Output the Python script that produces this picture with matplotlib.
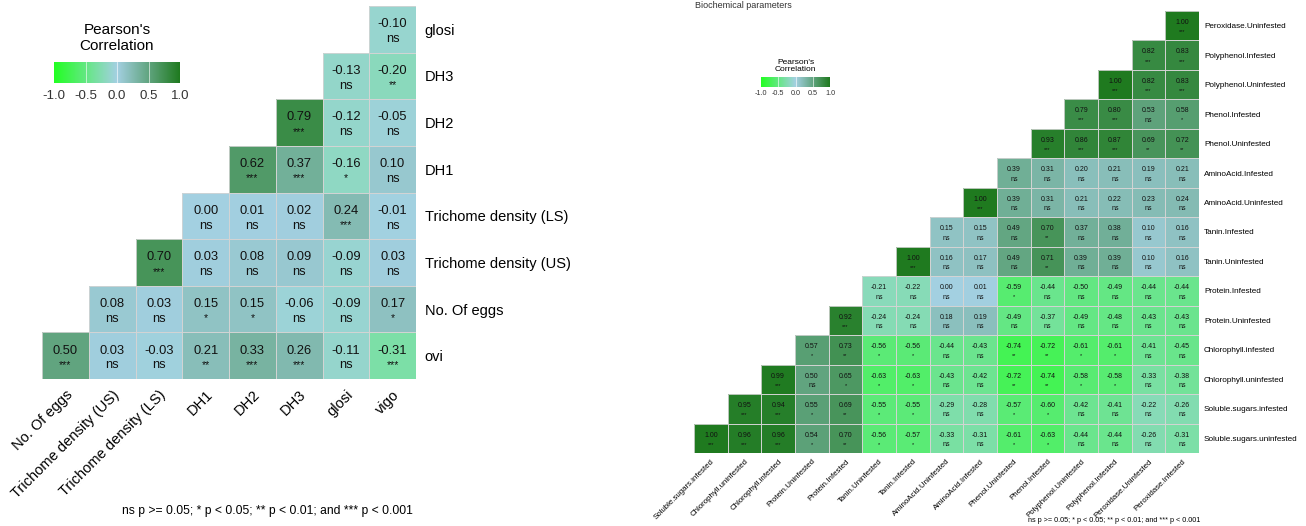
#!/usr/bin/env python3

import numpy as np
import matplotlib
matplotlib.use("Agg")
import matplotlib.pyplot as plt
from matplotlib.colors import LinearSegmentedColormap
from matplotlib.patches import Rectangle

plt.rcParams['font.family'] = ['Liberation Sans', 'DejaVu Sans']

W, H = 1306, 526

# ---- left panel data (rows top to bottom, each row ends at the last column) ----
left_cols = ["No. Of eggs", "Trichome density (US)", "Trichome density (LS)",
             "DH1", "DH2", "DH3", "glosi", "vigo"]
left_rows = ["glosi", "DH3", "DH2", "DH1", "Trichome density (LS)",
             "Trichome density (US)", "No. Of eggs", "ovi"]
left_vals = [
    [-0.10],
    [-0.13, -0.20],
    [0.79, -0.12, -0.05],
    [0.62, 0.37, -0.16, 0.10],
    [0.00, 0.01, 0.02, 0.24, -0.01],
    [0.70, 0.03, 0.08, 0.09, -0.09, 0.03],
    [0.08, 0.03, 0.15, 0.15, -0.06, -0.09, 0.17],
    [0.50, 0.03, -0.03, 0.21, 0.33, 0.26, -0.11, -0.31],
]
left_sig = [
    ["ns"],
    ["ns", "**"],
    ["***", "ns", "ns"],
    ["***", "***", "*", "ns"],
    ["ns", "ns", "ns", "***", "ns"],
    ["***", "ns", "ns", "ns", "ns", "ns"],
    ["ns", "ns", "*", "*", "ns", "ns", "*"],
    ["***", "ns", "ns", "**", "***", "***", "ns", "***"],
]

# ---- right panel data ----
right_cols = ["Soluble.sugars.infested", "Chlorophyll.uninfested", "Chlorophyll.infested",
              "Protein.Uninfested", "Protein.Infested", "Tanin.Uninfested", "Tanin.Infested",
              "AminoAcid.Uninfested", "AminoAcid.Infested", "Phenol.Uninfested",
              "Phenol.Infested", "Polyphenol.Uninfested", "Polyphenol.Infested",
              "Peroxidase.Uninfested", "Peroxidase.Infested"]
right_rows = ["Peroxidase.Uninfested", "Polyphenol.Infested", "Polyphenol.Uninfested",
              "Phenol.Infested", "Phenol.Uninfested", "AminoAcid.Infested",
              "AminoAcid.Uninfested", "Tanin.Infested", "Tanin.Uninfested",
              "Protein.Infested", "Protein.Uninfested", "Chlorophyll.infested",
              "Chlorophyll.uninfested", "Soluble.sugars.infested", "Soluble.sugars.uninfested"]
right_vals = [
    [1.00],
    [0.82, 0.83],
    [1.00, 0.82, 0.83],
    [0.79, 0.80, 0.53, 0.58],
    [0.93, 0.86, 0.87, 0.69, 0.72],
    [0.39, 0.31, 0.20, 0.21, 0.19, 0.21],
    [1.00, 0.39, 0.31, 0.21, 0.22, 0.23, 0.24],
    [0.15, 0.15, 0.49, 0.70, 0.37, 0.38, 0.10, 0.16],
    [1.00, 0.16, 0.17, 0.49, 0.71, 0.39, 0.39, 0.10, 0.16],
    [-0.21, -0.22, 0.00, 0.01, -0.59, -0.44, -0.50, -0.49, -0.44, -0.44],
    [0.92, -0.24, -0.24, 0.18, 0.19, -0.49, -0.37, -0.49, -0.48, -0.43, -0.43],
    [0.57, 0.73, -0.56, -0.56, -0.44, -0.43, -0.74, -0.72, -0.61, -0.61, -0.41, -0.45],
    [0.99, 0.50, 0.65, -0.63, -0.63, -0.43, -0.42, -0.72, -0.74, -0.58, -0.58, -0.33, -0.38],
    [0.95, 0.94, 0.55, 0.69, -0.55, -0.55, -0.29, -0.28, -0.57, -0.60, -0.42, -0.41, -0.22, -0.26],
    [1.00, 0.96, 0.96, 0.54, 0.70, -0.56, -0.57, -0.33, -0.31, -0.61, -0.63, -0.44, -0.44, -0.26, -0.31],
]
right_sig = [
    ["***"],
    ["***", "***"],
    ["***", "***", "***"],
    ["***", "***", "ns", "*"],
    ["***", "***", "***", "**", "**"],
    ["ns", "ns", "ns", "ns", "ns", "ns"],
    ["***", "ns", "ns", "ns", "ns", "ns", "ns"],
    ["ns", "ns", "ns", "**", "ns", "ns", "ns", "ns"],
    ["***", "ns", "ns", "ns", "**", "ns", "ns", "ns", "ns"],
    ["ns", "ns", "ns", "ns", "*", "ns", "ns", "ns", "ns", "ns"],
    ["***", "ns", "ns", "ns", "ns", "ns", "ns", "ns", "ns", "ns", "ns"],
    ["*", "**", "*", "*", "ns", "ns", "**", "**", "*", "*", "ns", "ns"],
    ["***", "ns", "*", "*", "*", "ns", "ns", "**", "**", "*", "*", "ns", "ns"],
    ["***", "***", "*", "**", "*", "*", "ns", "ns", "*", "*", "ns", "ns", "ns", "ns"],
    ["***", "***", "***", "*", "**", "*", "*", "ns", "ns", "*", "*", "ns", "ns", "ns", "ns"],
]

caption = "ns p >= 0.05; * p < 0.05; ** p < 0.01; and *** p < 0.001"

cmap = LinearSegmentedColormap.from_list(
    "corr", ["#22ff22", "#a4d0e2", "#1f7a1f"])


def to_matrix(vals, ncol):
    m = np.full((len(vals), ncol), np.nan)
    for i, row in enumerate(vals):
        m[i, ncol - len(row):] = row
    return m


def draw_heat(ax, vals, sigs, cols, rows, fs_val, fs_lab, fs_x):
    n = len(cols)
    m = to_matrix(vals, n)
    ax.pcolormesh(np.ma.masked_invalid(m), cmap=cmap, vmin=-1, vmax=1)
    for i, row in enumerate(vals):
        start = n - len(row)
        for k, v in enumerate(row):
            j = start + k
            s = sigs[i][k]
            ax.add_patch(Rectangle((j, i), 1, 1, fill=False, ec="#d4d4d4", lw=0.6))
            ax.text(j + 0.5, i + 0.39, f"{v:.2f}", ha="center", va="center",
                    fontsize=fs_val, color="#111111")
            if s == "ns":
                ax.text(j + 0.5, i + 0.71, s, ha="center", va="center",
                        fontsize=fs_val, color="#111111")
            else:
                ax.text(j + 0.5, i + 0.70, s, ha="center", va="center",
                        fontsize=fs_val * 0.8, color="#111111")
    ax.set_xlim(0, n)
    ax.set_ylim(len(rows), 0)
    ax.set_xticks(np.arange(n) + 0.5)
    ax.set_xticklabels(cols, rotation=45, ha="right", rotation_mode="anchor",
                       fontsize=fs_x)
    ax.set_yticks(np.arange(len(rows)) + 0.5)
    ax.set_yticklabels(rows, fontsize=fs_lab)
    ax.yaxis.tick_right()
    ax.tick_params(length=0, pad=fs_lab * 0.6)
    ax.patch.set_alpha(0)
    for sp in ax.spines.values():
        sp.set_visible(False)


def legend(fig, x0, y0, w, h, fs_title, fs_tick, title_y, pad):
    cax = fig.add_axes([x0 / W, 1 - (y0 + h) / H, w / W, h / H])
    grad = np.linspace(-1, 1, 256)[np.newaxis, :]
    cax.imshow(grad, aspect="auto", cmap=cmap, extent=[-1, 1, 0, 1])
    for t in [-0.5, 0, 0.5]:
        cax.axvline(t, color="white", lw=0.6, alpha=0.7)
    cax.set_xticks([-1, -0.5, 0, 0.5, 1])
    cax.set_xticklabels(["-1.0", "-0.5", "0.0", "0.5", "1.0"], fontsize=fs_tick,
                        color="#333333")
    cax.set_yticks([])
    cax.tick_params(length=0, pad=pad)
    for sp in cax.spines.values():
        sp.set_visible(False)
    fig.text((x0 + w / 2) / W, 1 - title_y / H, "Pearson's\nCorrelation",
             ha="center", va="center", fontsize=fs_title, linespacing=1.1)


def main():
    fig = plt.figure(figsize=(W / 100, H / 100), dpi=100)

    ax1 = fig.add_axes([42 / W, 1 - 379 / H, 374 / W, 373 / H])
    draw_heat(ax1, left_vals, left_sig, left_cols, left_rows, 9.3, 10.5, 10.5)
    fig.text(267 / W, 1 - 511 / H, caption, ha="center", va="center", fontsize=8.7)
    legend(fig, 54, 62, 126, 21, 11, 9.5, 38, 5)

    ax2 = fig.add_axes([694 / W, 1 - 453 / H, 505 / W, 442 / H])
    draw_heat(ax2, right_vals, right_sig, right_cols, right_rows, 5.0, 5.9, 5.7)
    fig.text(1114 / W, 1 - 520 / H, caption, ha="center", va="center", fontsize=5.2)
    legend(fig, 761, 77, 69, 10, 6, 5.2, 66, 2.5)

    fig.text(695 / W, 1 - 0.5 / H, "Biochemical parameters", ha="left", va="top",
             fontsize=6.5, color="#333333")

    fig.savefig("out.png", dpi=100)


if __name__ == "__main__":
    main()
